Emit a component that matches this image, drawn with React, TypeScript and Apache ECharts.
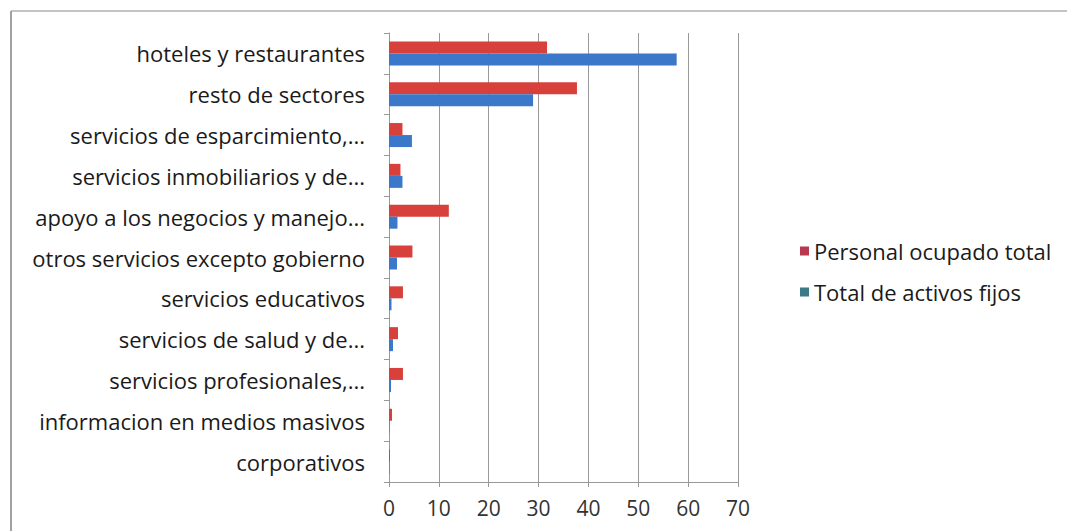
import React, { useEffect, useRef } from "react";
import * as echarts from "echarts";

const categories = [
  "hoteles y restaurantes",
  "resto de sectores",
  "servicios de esparcimiento,...",
  "servicios inmobiliarios y de...",
  "apoyo a los negocios y manejo...",
  "otros servicios excepto gobierno",
  "servicios educativos",
  "servicios de salud y de...",
  "servicios profesionales,...",
  "informacion en medios masivos",
  "corporativos",
];
const personalOcupado = [31.7, 37.7, 2.7, 2.3, 12.0, 4.7, 2.8, 1.8, 2.8, 0.6, 0.2];
const activosFijos = [57.7, 28.9, 4.6, 2.7, 1.7, 1.6, 0.5, 0.8, 0.4, 0.1, 0.1];
const xTicks = [0, 10, 20, 30, 40, 50, 60, 70];

export default function App() {
  const ref = useRef<HTMLDivElement>(null);
  useEffect(() => {
    const chart = echarts.init(ref.current!, null, { renderer: "svg" });
    const font = "Open Sans";
    chart.setOption({
      animation: false,
      backgroundColor: "#ffffff",
      graphic: [
        { type: "line", shape: { x1: 11, y1: 11, x2: 1067, y2: 11 }, style: { stroke: "#b0b0b0", lineWidth: 1.5 } },
        { type: "line", shape: { x1: 11, y1: 11, x2: 11, y2: 531 }, style: { stroke: "#a0a0a0", lineWidth: 2 } },
      ],
      legend: {
        orient: "vertical",
        left: 795,
        top: 235,
        itemWidth: 9,
        itemHeight: 9,
        itemGap: 19,
        icon: "rect",
        textStyle: { fontFamily: font, fontSize: 22, color: "#1a1a1a" },
        data: [
          { name: "Personal ocupado total", itemStyle: { color: "#b8384f" } },
          { name: "Total de activos fijos", itemStyle: { color: "#3b7a86" } },
        ],
      },
      grid: { left: 389, top: 33, width: 349, height: 449, containLabel: false },
      xAxis: {
        type: "value",
        min: 0,
        max: 70,
        interval: 10,
        axisLine: { show: true, lineStyle: { color: "#999" } },
        axisTick: { show: true, length: 5, lineStyle: { color: "#999" } },
        splitLine: { show: true, lineStyle: { color: "#999", width: 1 } },
        axisLabel: {
          fontFamily: font,
          fontSize: 21,
          color: "#333",
          margin: 15,
          formatter: (v: number) => (xTicks.includes(v) ? String(v) : ""),
        },
      },
      yAxis: {
        type: "category",
        inverse: true,
        data: categories,
        axisLine: { show: true, lineStyle: { color: "#999" } },
        axisTick: { show: true, length: 5, lineStyle: { color: "#999" } },
        axisLabel: {
          fontFamily: font,
          fontSize: 22,
          color: "#1a1a1a",
          margin: 24,
          padding: [8, 0, 0, 0],
        },
      },
      series: [
        {
          name: "Personal ocupado total",
          type: "bar",
          data: personalOcupado,
          itemStyle: { color: "#d8413b" },
          barWidth: 12,
          barGap: "0%",
        },
        {
          name: "Total de activos fijos",
          type: "bar",
          data: activosFijos,
          itemStyle: { color: "#3b78c9" },
          barWidth: 12,
          barGap: "0%",
        },
      ],
    });
    return () => chart.dispose();
  }, []);
  return (
    <div
      ref={ref}
      style={{ position: "fixed", left: 0, top: 0, width: 1067, height: 531 }}
    />
  );
}
